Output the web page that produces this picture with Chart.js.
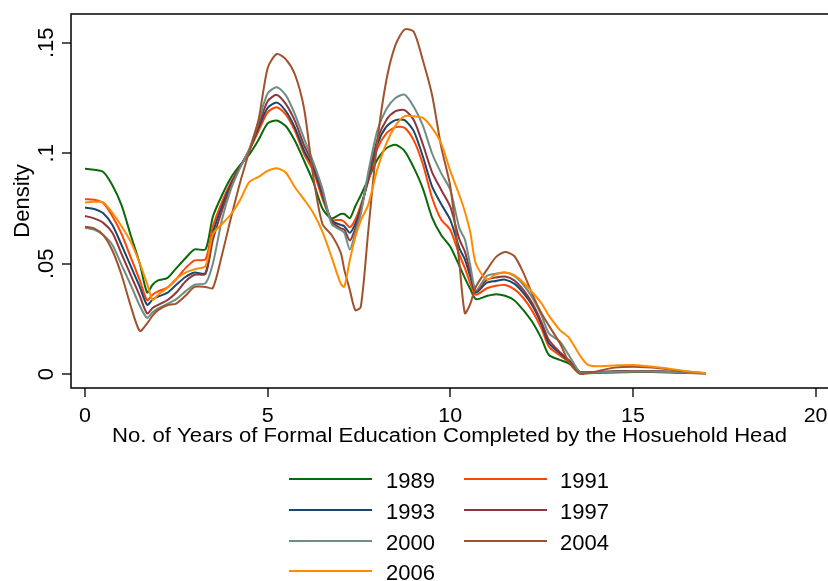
<!DOCTYPE html>
<html><head><meta charset="utf-8">
<script src="https://cdn.jsdelivr.net/npm/chart.js@4.4.0/dist/chart.umd.min.js"></script>
<style>
html,body{margin:0;padding:0;background:#fff;}
#wrap{position:relative;width:828px;height:581px;overflow:hidden;}
#c{position:absolute;left:0;top:0;}
.lab{position:absolute;font-family:"Liberation Sans",Arial,sans-serif;font-size:22px;line-height:26px;color:#000;white-space:nowrap;}
.sw{position:absolute;height:2px;}
</style></head>
<body><div id="wrap"><canvas id="c" width="828" height="581"></canvas></div>
<script>
// ---- data ----
const YEARS = ["1989","1991","1993","1997","2000","2004","2006"];
const COLORS = ["#0a690a","#ff4500","#1a476f","#90353b","#6e8e84","#a0522d","#ff8c00"];
const X_YEARS = [0,0.25,0.5,0.75,1,1.25,1.5,1.7,1.85,2,2.25,2.5,2.75,3,3.3,3.5,3.75,4,4.25,4.5,4.75,5,5.25,5.5,5.75,6,6.25,6.5,6.75,7,7.1,7.25,7.4,7.55,7.75,8,8.25,8.5,8.75,9,9.25,9.5,9.75,10,10.25,10.4,10.55,10.7,11,11.25,11.5,11.75,12,12.25,12.5,12.7,13,13.25,13.55,13.75,14,14.5,15,15.5,16,16.5,17];
const D1989 = [.093,.0925,.0915,.0855,.0765,.063,.050,.037,.0405,.0425,.0435,.048,.0525,.0565,.0565,.0713,.081,.089,.0947,.0995,.106,.1135,.1148,.1122,.1055,.0965,.087,.075,.0705,.0725,.0725,.0706,.076,.081,.088,.097,.1023,.1038,.101,.0935,.084,.071,.063,.0577,.049,.0435,.0385,.034,.0354,.0362,.0355,.0335,.029,.0235,.016,.0087,.0065,.0048,.001,.0005,.0006,.0008,.001,.001,.0008,.0006,.0004];
const D1991 = [.0792,.079,.0775,.0715,.0635,.053,.0425,.0335,.036,.0375,.0392,.043,.048,.0515,.052,.0668,.078,.087,.094,.1015,.110,.1185,.1208,.1175,.110,.0995,.092,.0795,.070,.0698,.069,.0665,.070,.0765,.087,.102,.109,.1118,.1115,.1058,.095,.080,.070,.0653,.054,.048,.041,.036,.0389,.040,.0404,.0385,.0345,.0285,.0205,.0125,.0085,.0055,.001,.0008,.0009,.0012,.0014,.0013,.001,.0007,.0004];
const D1993 = [.0754,.0748,.0728,.0675,.0585,.049,.0395,.0314,.0338,.0351,.0368,.0405,.044,.046,.0458,.0638,.076,.0862,.094,.1015,.1115,.1205,.1229,.119,.1115,.101,.0935,.081,.0695,.0676,.067,.064,.068,.075,.088,.104,.112,.115,.115,.110,.0985,.085,.077,.0698,.057,.052,.044,.037,.0414,.0422,.0428,.041,.0368,.031,.0225,.014,.0095,.006,.001,.0008,.001,.0013,.0015,.0014,.0011,.0007,.0004];
const D1997 = [.0716,.0705,.0685,.064,.0545,.045,.0355,.0275,.030,.0314,.0335,.037,.042,.045,.0455,.0608,.074,.0855,.094,.1015,.1125,.1235,.1264,.1222,.1145,.1035,.095,.0825,.069,.066,.0655,.0605,.066,.074,.089,.106,.115,.119,.1195,.115,.104,.0915,.0835,.0758,.061,.0555,.046,.0375,.0427,.0438,.0442,.0425,.0382,.032,.0235,.0155,.010,.0063,.001,.0008,.001,.0013,.0015,.0014,.0011,.0007,.0004];
const D2000 = [.0663,.0655,.063,.0585,.0495,.0405,.031,.0255,.028,.0298,.0318,.034,.0375,.0405,.0412,.050,.070,.084,.0935,.102,.1145,.127,.1299,.1262,.1175,.1065,.096,.084,.068,.0653,.064,.0565,.064,.0725,.091,.110,.120,.125,.1265,.121,.1125,.100,.091,.0834,.066,.061,.049,.038,.0445,.0455,.046,.0445,.0405,.0345,.0265,.0185,.0148,.0085,.0008,.0006,.0008,.0011,.0013,.0012,.001,.0007,.0004];
const D2004 = [.0668,.066,.063,.056,.045,.031,.0196,.023,.0265,.029,.0312,.032,.0355,.0395,.0395,.039,.054,.071,.087,.101,.115,.1385,.1449,.1425,.1355,.120,.0894,.068,.063,.055,.0472,.0381,.029,.0305,.064,.105,.133,.149,.156,.155,.142,.1265,.103,.085,.050,.0276,.032,.0396,.0472,.053,.0553,.0535,.046,.036,.0275,.022,.014,.0055,.0002,.0005,.0013,.003,.0034,.003,.0022,.0012,.0005];
const D2006 = [.0777,.078,.0778,.073,.067,.060,.0502,.041,.0336,.036,.039,.0432,.046,.0475,.049,.0635,.068,.0725,.079,.087,.0893,.092,.0932,.0912,.0845,.079,.073,.0645,.053,.041,.0396,.0517,.062,.0695,.0765,.0925,.1045,.1125,.1168,.1167,.116,.1115,.1045,.092,.081,.0735,.064,.050,.0428,.0452,.046,.0448,.0415,.037,.032,.0265,.020,.0165,.0085,.0045,.0036,.004,.0042,.0035,.0025,.0013,.0005];
const SERIES = [D1989,D1991,D1993,D1997,D2000,D2004,D2006];
const X_TICKS = [0,5,10,15,20];
const X_TICK_LABELS = ["0","5","10","15","20"];
const Y_TICKS = [0,0.05,0.1,0.15];
const Y_TICK_LABELS = ["0",".05",".1",".15"];
const X_TITLE = "No. of Years of Formal Education Completed by the Hosuehold Head";
const Y_TITLE = "Density";

const FONT = '"Liberation Sans", Arial, sans-serif';
Chart.defaults.font.family = FONT;
Chart.defaults.color = '#000';

const datasets = SERIES.map((arr,i)=>({
  label: YEARS[i],
  data: X_YEARS.map((x,j)=>({x:x,y:arr[j]})),
  borderColor: COLORS[i],
  backgroundColor: COLORS[i],
  borderWidth: 2,
  pointRadius: 0,
  tension: 0.25,
  fill: false,
  order: SERIES.length - i
}));

const framePlugin = {
  id:'frame',
  afterDraw(chart){
    const ctx = chart.ctx, a = chart.chartArea, ys = chart.scales.y, xs = chart.scales.x;
    ctx.save();
    ctx.strokeStyle = '#000'; ctx.lineWidth = 1.5;
    ctx.beginPath();
    ctx.moveTo(a.right + 2, a.top); ctx.lineTo(a.left, a.top);
    ctx.lineTo(a.left, a.bottom); ctx.lineTo(a.right + 2, a.bottom);
    ctx.stroke();
    ctx.fillStyle = '#000';
    // y tick labels (rotated)
    ctx.font = '22px ' + FONT;
    ctx.textAlign = 'center'; ctx.textBaseline = 'alphabetic';
    Y_TICKS.forEach((v,k)=>{
      const y = ys.getPixelForValue(v);
      ctx.save(); ctx.translate(53.3, y); ctx.rotate(-Math.PI/2);
      ctx.fillText(Y_TICK_LABELS[k], 0, 0); ctx.restore();
    });
    // y title
    ctx.save(); ctx.translate(29.3, (a.top + a.bottom)/2); ctx.rotate(-Math.PI/2);
    ctx.fillText(Y_TITLE, 0, 0); ctx.restore();
    // x tick labels
    ctx.font = '19.5px ' + FONT;
    X_TICKS.forEach((v,k)=>{
      const x = xs.getPixelForValue(v);
      ctx.save(); ctx.translate(x, 421.7); ctx.scale(1.1, 1);
      ctx.fillText(X_TICK_LABELS[k], 0, 0); ctx.restore();
    });
    // x title
    const w = ctx.measureText(X_TITLE).width;
    ctx.save(); ctx.translate(449.5, 441.7); ctx.scale(675 / w, 1);
    ctx.fillText(X_TITLE, 0, 0); ctx.restore();
    ctx.restore();
  }
};

new Chart(document.getElementById('c'), {
  type: 'line',
  data: { datasets },
  options: {
    responsive: false, animation: false,
    layout: { padding: { left: 0, top: 14, right: 0, bottom: 123 } },
    plugins: { legend: { display: false }, tooltip: { enabled: false } },
    scales: {
      x: {
        type: 'linear', min: -0.383, max: 20.34,
        afterBuildTicks: s => { s.ticks = X_TICKS.map(v=>({value:v})); },
        afterFit: s => { s.height = 70; },
        border: { display: false },
        grid: { drawOnChartArea: false, drawTicks: true, tickLength: 9, color: '#555', lineWidth: 2 },
        ticks: { display: false }
      },
      y: {
        type: 'linear', min: -0.00622, max: 0.163,
        afterBuildTicks: s => { s.ticks = Y_TICKS.map(v=>({value:v})); },
        afterFit: s => { s.width = 71; },
        border: { display: false },
        grid: { drawOnChartArea: false, drawTicks: true, tickLength: 9, color: '#555', lineWidth: 2 },
        ticks: { display: false }
      }
    }
  },
  plugins: [framePlugin]
});

// HTML legend (two columns)
const wrap = document.getElementById('wrap');
YEARS.forEach((yr,i)=>{
  const col = i % 2, row = Math.floor(i/2);
  const ly = 479.3 + row*30.7;
  const sw = document.createElement('div');
  sw.className = 'sw';
  sw.style.left = (289 + col*175) + 'px';
  sw.style.width = '83px';
  sw.style.top = (ly - 1) + 'px';
  sw.style.background = COLORS[i];
  wrap.appendChild(sw);
  const lb = document.createElement('div');
  lb.className = 'lab';
  lb.style.left = (386 + col*174) + 'px';
  lb.style.top = (ly + 1.4 - 12.4) + 'px';
  lb.textContent = yr;
  wrap.appendChild(lb);
});
</script>
</body></html>
